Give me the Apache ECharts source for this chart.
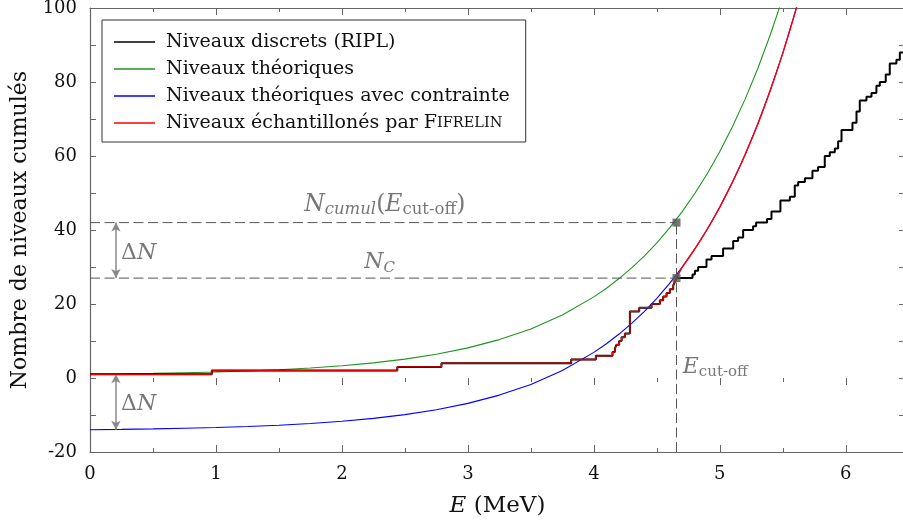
<!DOCTYPE html>
<html><head><meta charset="utf-8">
<script src="https://cdn.jsdelivr.net/npm/echarts@6/dist/echarts.min.js"></script>
<style>html,body{margin:0;padding:0;background:#fff}#c{width:903px;height:525px}</style>
</head><body><div id="c"></div>
<script>
// ---------- data ----------
const theoryE = [0,0.25,0.5,0.75,1,1.25,1.5,1.75,2,2.25,2.5,2.75,3,3.25,3.5,3.75,4,4.1,4.2,4.3,4.4,4.5,4.6,4.7,4.8,4.9,5,5.1,5.2,5.3,5.4,5.5,5.6,5.7];
const greenN  = [1.02,1.12,1.24,1.41,1.62,1.89,2.25,2.71,3.31,4.10,5.11,6.44,8.15,10.38,13.27,17.04,21.92,24.27,26.88,29.78,32.96,36.54,40.50,44.9,49.8,55.2,61.2,67.9,75.3,83.5,92.7,102.8,114.1,126.6];
const blueN   = [-13.98,-13.88,-13.76,-13.59,-13.38,-13.11,-12.75,-12.29,-11.69,-10.90,-9.89,-8.56,-6.85,-4.62,-1.73,2.04,6.92,9.27,11.88,14.78,17.96,21.54,25.50,29.9,34.8,40.2,46.2,52.9,60.3,68.5,77.7,87.8,99.1,111.6];

// discrete RIPL levels (step start energy, cumulative count)
const ripE = [0,0.967,2.44,2.79,3.82,4.016,4.148,4.167,4.18,4.201,4.22,4.246,4.286,4.36,4.458,4.524,4.55,4.577,4.603,4.63,4.643,4.656,4.783,4.802,4.828,4.894,4.934,5.026,5.106,5.145,5.185,5.264,5.288,5.375,5.41,5.481,5.556,5.595,5.622,5.675,5.735,5.78,5.833,5.873,5.913,5.939,5.966,6.053,6.085,6.111,6.164,6.204,6.243,6.27,6.317,6.349,6.402,6.429,6.47];
const ripN = [1,2,3,4,5,6,7,8,9,10,11,12,18,19,20,21,22,23,24,25,26,27,28,29,30,32,33,35,37,38,40,41,42,43,45,48,49,52,53,54,56,57,60,61,62,64,67,69,72,75,76,77,79,80,82,85,86,88,88];

// FIFRELIN sampled levels: below cut-off (steps) and above cut-off
const fifLowE = [0,0.967,2.44,2.79,3.82,4.016,4.148,4.167,4.18,4.201,4.22,4.246,4.286,4.36,4.458,4.524,4.55,4.577,4.603,4.63,4.643,4.656];
const fifLowN = [1,2,3,4,5,6,7,8,9,10,11,12,18,19,20,21,22,23,24,25,26,27];
const fifHighE = [4.656,4.7,4.75,4.8,4.85,4.9,4.95,5.0,5.05,5.1,5.15,5.2,5.25,5.3,5.35,5.4,5.45,5.5,5.55,5.6,5.65];
const fifHighN = [27,29.9,32.3,34.8,37.4,40.2,43.1,46.2,49.5,52.9,56.5,60.3,64.3,68.5,73.0,77.7,82.6,87.8,93.3,99.1,105.2];

const cutoffE = 4.656;
const nCumul = 42;
const nC = 27;
const lowTheory = 1;
const lowBlue = -14;
const arrowE = 0.206;

const names = ['Niveaux discrets (RIPL)','Niveaux théoriques','Niveaux théoriques avec contrainte','Niveaux échantillonés par Fifrelin'];
const xTickInterval = 1, yTickInterval = 20;
const xMin = 0, xMax = 6.47, yMin = -20, yMax = 100;

// ---------- chart ----------
const zip = (a,b) => a.map((v,i)=>[v,b[i]]);
const FONT = 'DejaVu Serif';
const GREY = '#555';
const AX = '#666';
const chart = echarts.init(document.getElementById('c'), null, {renderer:'canvas'});

const axisCommon = {
  type:'value', min:xMin, max:xMax, interval:xTickInterval,
  splitLine:{show:false},
  axisLine:{show:true, onZero:false, lineStyle:{color:AX, width:1.2}},
  minorTick:{show:true, splitNumber:2, length:4, lineStyle:{color:AX}},
  axisTick:{show:true, inside:true, length:7, lineStyle:{color:AX}},
  axisLabel:{show:false}
};
const yCommon = {
  type:'value', min:yMin, max:yMax, interval:yTickInterval,
  splitLine:{show:false},
  axisLine:{show:true, onZero:false, lineStyle:{color:AX, width:1.2}},
  minorTick:{show:true, splitNumber:2, length:6, lineStyle:{color:AX}},
  axisTick:{show:true, inside:true, length:6, lineStyle:{color:AX}},
  axisLabel:{show:false}
};

const mathRich = {
  m:{fontFamily:FONT, fontStyle:'italic', fontSize:22, color:GREY, lineHeight:26},
  r:{fontFamily:FONT, fontSize:22, color:GREY, lineHeight:26},
  si:{fontFamily:FONT, fontStyle:'italic', fontSize:15, color:GREY, lineHeight:12, verticalAlign:'bottom'},
  sr:{fontFamily:FONT, fontSize:15, color:GREY, lineHeight:12, verticalAlign:'bottom'},
  M:{fontFamily:FONT, fontStyle:'italic', fontSize:23.5, color:GREY, lineHeight:26},
  R:{fontFamily:FONT, fontSize:23.5, color:GREY, lineHeight:26},
  SI:{fontFamily:FONT, fontStyle:'italic', fontSize:16.5, color:GREY, lineHeight:12, verticalAlign:'bottom'},
  SR:{fontFamily:FONT, fontSize:16.5, color:GREY, lineHeight:12, verticalAlign:'bottom'}
};

function textSeries(pt, text, pos){
  return {
    type:'scatter', xAxisIndex:0, yAxisIndex:0, silent:true, z:20,
    symbolSize:0, data:[pt],
    label:{show:true, position:pos, distance:0, formatter:text, rich:mathRich}
  };
}

const option = {
  animation:false,
  backgroundColor:'#fff',
  grid:{left:90, right:-2, top:8, bottom:73, containLabel:false, outerBoundsMode:'none'},
  legend:{
    orient:'vertical', left:102, top:20,
    data:names,
    backgroundColor:'#fff', borderColor:'#333', borderWidth:1, borderRadius:0,
    padding:[12,16,9,12], itemGap:7, itemWidth:41, itemHeight:1.6, icon:'rect',
    textStyle:{fontFamily:FONT, fontSize:19, color:'#111', lineHeight:20, padding:[0,0,0,6],
      rich:{sc1:{fontFamily:FONT, fontSize:19, color:'#111', lineHeight:20},
            sc2:{fontFamily:FONT, fontSize:14.5, color:'#111', lineHeight:20}}},
    formatter:function(n){ return n===names[3] ? 'Niveaux échantillonés par {sc1|F}{sc2|IFRELIN}' : n; },
    selectedMode:false, z:30
  },
  xAxis:[
    Object.assign({}, axisCommon, {position:'bottom',
      axisLabel:{show:true, margin:13, fontFamily:FONT, fontSize:18, color:'#111', showMaxLabel:false},
      name:'{i|E} (MeV)', nameLocation:'middle', nameGap:43,
      nameTextStyle:{fontFamily:FONT, fontSize:23, color:'#111', rich:{i:{fontFamily:FONT, fontStyle:'italic', fontSize:23, color:'#111'}}}}),
    Object.assign({}, axisCommon, {position:'top'}),
    Object.assign({}, axisCommon, {position:'bottom', axisLine:{show:false}, axisTick:{show:true, inside:false, length:7, lineStyle:{color:AX}}})
  ],
  yAxis:[
    Object.assign({}, yCommon, {position:'left',
      axisLabel:{show:true, margin:13, fontFamily:FONT, fontSize:18, color:'#111'},
      name:'Nombre de niveaux cumulés', nameLocation:'middle', nameGap:58, nameRotate:90,
      nameTextStyle:{fontFamily:FONT, fontSize:22, color:'#111'}}),
    Object.assign({}, yCommon, {position:'right'})
  ],
  series:[
    {name:names[1], type:'line', data:zip(theoryE, greenN), symbol:'none', color:'#1f951f', lineStyle:{width:1.1, color:'#1f951f'}, z:3},
    {name:names[2], type:'line', data:zip(theoryE, blueN), symbol:'none', color:'#0000ff', lineStyle:{width:1.1, color:'#0000ff'}, z:3},
    {name:names[0], type:'line', step:'end', data:zip(ripE, ripN), symbol:'none', color:'#000', lineStyle:{width:2, color:'#000'}, z:4},
    {name:names[3], type:'line', step:'end', data:zip(fifLowE, fifLowN), symbol:'none', color:'#ff0000', lineStyle:{width:1.3, color:'#e00000'}, z:5},
    {name:names[3], type:'line', data:zip(fifHighE, fifHighN), symbol:'none', color:'#ff0000', lineStyle:{width:1.4, color:'#ff0000'}, z:5},
    // dashed guides
    {type:'line', data:[[xMin,nCumul],[cutoffE,nCumul]], symbol:'none', lineStyle:{type:[10,4.5], color:GREY, width:1}, z:6, silent:true},
    {type:'line', data:[[xMin,nC],[cutoffE,nC]], symbol:'none', lineStyle:{type:[10,4.5], color:GREY, width:1}, z:6, silent:true},
    {type:'line', data:[[cutoffE,yMin],[cutoffE,nCumul]], symbol:'none', lineStyle:{type:[10,4.5], color:GREY, width:1}, z:6, silent:true},
    {type:'scatter', data:[[cutoffE,nCumul],[cutoffE,nC]], symbol:'rect', symbolSize:8, itemStyle:{color:GREY}, z:7, silent:true},
    // arrows
    {type:'line', data:[], markLine:{silent:true, symbol:['arrow','arrow'], symbolSize:[7,9], label:{show:false},
      lineStyle:{color:'#888', width:1.5, type:'solid'}, itemStyle:{color:'#444'},
      emphasis:{disabled:true},
      data:[[{coord:[arrowE,nCumul]},{coord:[arrowE,nC]}],[{coord:[arrowE,lowTheory]},{coord:[arrowE,lowBlue]}]]}},
    textSeries([2.34,46.8], '{M|N}{SI|cumul}{R|(}{M|E}{SR|cut-off}{R|)}', 'inside'),
    textSeries([2.30,31.2], '{m|N}{si|C}', 'inside'),
    textSeries([4.706,3.0], '{m|E}{sr|cut-off}', 'right'),
    textSeries([0.246,33.8], '{r|Δ}{m|N}', 'right'),
    textSeries([0.246,-7], '{r|Δ}{m|N}', 'right')
  ]
};
chart.setOption(option);
</script>
</body></html>
